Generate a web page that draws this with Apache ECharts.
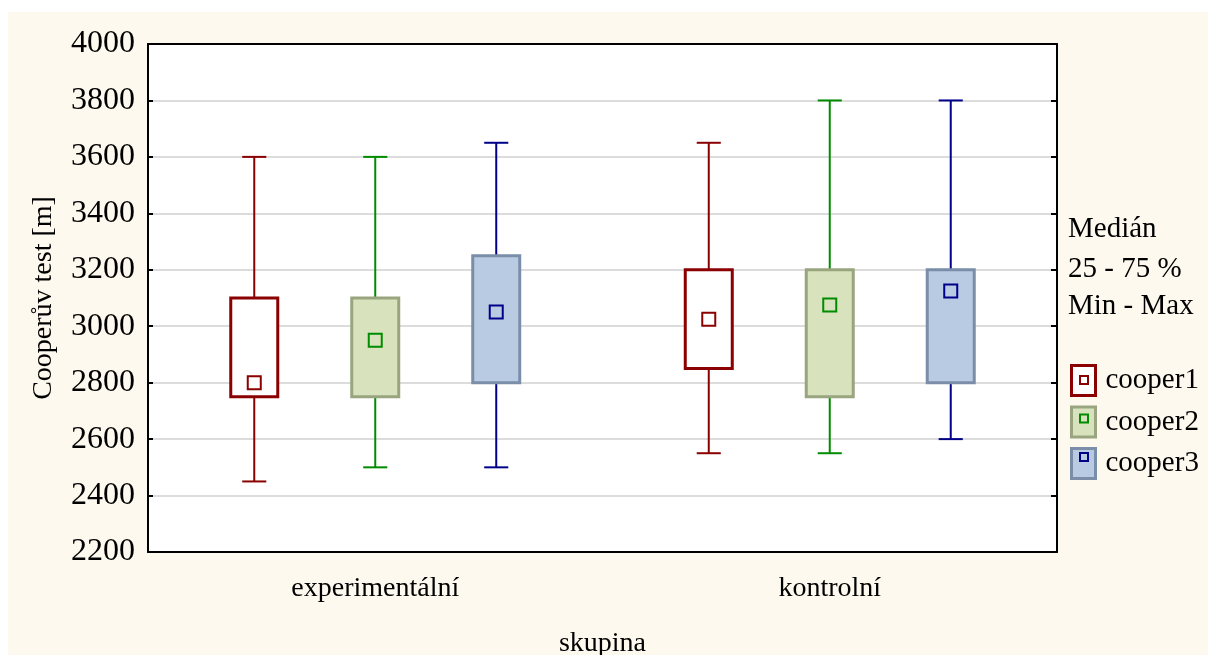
<!DOCTYPE html>
<html>
<head>
<meta charset="utf-8">
<script src="https://cdn.jsdelivr.net/npm/echarts@6/dist/echarts.min.js"></script>
<style>
    html, body { margin: 0; padding: 0; background: #ffffff; }
    #chart { position: absolute; left: 8px; top: 12px; width: 1200px; height: 643px; }
</style>
</head>
<body>
<div id="chart"></div>
<script>
// data: [min, q1, median, q3, max]
var categories = ['experimentální', 'kontrolní'];
var seriesNames = ['cooper1', 'cooper2', 'cooper3'];
var cooper1 = [[2450, 2750, 2800, 3100, 3600], [2550, 2850, 3025, 3200, 3650]];
var cooper2 = [[2500, 2750, 2950, 3100, 3600], [2550, 2750, 3075, 3200, 3800]];
var cooper3 = [[2500, 2800, 3050, 3250, 3650], [2600, 2800, 3125, 3200, 3800]];
var yTicks = [2200, 2400, 2600, 2800, 3000, 3200, 3400, 3600, 3800, 4000];
var legendNotes = ['Medián', '25 - 75 %', 'Min - Max'];

var font = 'Liberation Serif';
var styles = [
    {line: '#8b0000', fill: '#ffffff', border: '#8b0000', median: '#8b0000'},
    {line: '#008c00', fill: '#d8e3bd', border: '#98a57e', median: '#008c00'},
    {line: '#000088', fill: '#b8cbe3', border: '#7a8ea9', median: '#000088'}
];
// offset of each series inside the category band (fraction of band width)
var offsets = [-0.2662, 0, 0.2662];

function toRows(arr) {
    var rows = [];
    for (var i = 0; i < arr.length; i++) {
        rows.push([i].concat(arr[i]));
    }
    return rows;
}

function renderBox(params, api) {
    var s = styles[params.seriesIndex];
    var cat = api.value(0);
    var band = api.size([1, 0])[0];
    var cx = api.coord([cat, 0])[0] + offsets[params.seriesIndex] * band;
    var yMin = api.coord([cat, api.value(1)])[1];
    var yQ1 = api.coord([cat, api.value(2)])[1];
    var yMed = api.coord([cat, api.value(3)])[1];
    var yQ3 = api.coord([cat, api.value(4)])[1];
    var yMax = api.coord([cat, api.value(5)])[1];
    var bw = band * 0.1034;
    var cw = band * 0.053;
    var lineStyle = {stroke: s.line, lineWidth: 2};
    return {
        type: 'group',
        children: [
            {type: 'line', shape: {x1: cx, y1: yMax, x2: cx, y2: yQ3}, style: lineStyle},
            {type: 'line', shape: {x1: cx, y1: yQ1, x2: cx, y2: yMin}, style: lineStyle},
            {type: 'line', shape: {x1: cx - cw / 2, y1: yMax, x2: cx + cw / 2, y2: yMax}, style: lineStyle},
            {type: 'line', shape: {x1: cx - cw / 2, y1: yMin, x2: cx + cw / 2, y2: yMin}, style: lineStyle},
            {type: 'rect', shape: {x: cx - bw / 2, y: yQ3, width: bw, height: yQ1 - yQ3},
                style: {fill: s.fill, stroke: s.border, lineWidth: 3}},
            {type: 'rect', shape: {x: cx - 6.5, y: yMed - 6.5, width: 13, height: 13},
                style: {fill: 'none', stroke: s.median, lineWidth: 2}}
        ]
    };
}

var chart = echarts.init(document.getElementById('chart'));

var series = [cooper1, cooper2, cooper3].map(function (arr, i) {
    return {
        name: seriesNames[i],
        type: 'custom',
        renderItem: renderBox,
        xAxisIndex: 0,
        yAxisIndex: 0,
        encode: {x: 0, y: [1, 2, 3, 4, 5]},
        itemStyle: {color: styles[i].fill, borderColor: styles[i].border},
        data: toRows(arr),
        z: 5
    };
});

var graphics = [];
legendNotes.forEach(function (t, i) {
    graphics.push({
        type: 'text', left: 1060, top: [203, 243, 280][i],
        style: {text: t, font: '29px "' + font + '"', fill: '#000'}
    });
});
// small median squares inside legend icons
[364, 402.5, 441].forEach(function (y, i) {
    graphics.push({
        type: 'rect', z: 100,
        shape: {x: 1072, y: y, width: 8, height: 8},
        style: {fill: 'none', stroke: styles[i].median, lineWidth: 2}
    });
});

var option = {
    backgroundColor: '#fdf9ee',
    animation: false,
    grid: {left: 140, top: 32, width: 909, height: 508, outerBoundsMode: 'none',
        show: true, backgroundColor: '#ffffff', borderWidth: 0},
    legend: {
        orient: 'vertical',
        left: 1057,
        top: 347,
        itemWidth: 24,
        itemHeight: 30,
        itemGap: 8.5,
        icon: 'rect',
        selectedMode: false,
        textStyle: {fontFamily: font, fontSize: 29, lineHeight: 30, color: '#000', padding: [0, 0, 0, 5]},
        data: seriesNames.map(function (n, i) {
            return {name: n, itemStyle: {color: styles[i].fill, borderColor: styles[i].border, borderWidth: 3}};
        })
    },
    xAxis: [{
        type: 'category',
        data: categories,
        position: 'bottom',
        name: 'skupina',
        nameLocation: 'middle',
        nameGap: 78,
        nameTextStyle: {fontFamily: font, fontSize: 28, color: '#000'},
        axisLine: {lineStyle: {color: '#000', width: 2}},
        axisTick: {inside: true, alignWithLabel: true, length: 6, lineStyle: {color: '#000', width: 2}},
        axisLabel: {fontFamily: font, fontSize: 28, color: '#000', margin: 23},
        splitLine: {show: false}
    }, {
        type: 'category',
        data: categories,
        position: 'top',
        axisLine: {lineStyle: {color: '#000', width: 2}},
        axisTick: {inside: true, alignWithLabel: true, length: 6, lineStyle: {color: '#000', width: 2}},
        axisLabel: {show: false},
        splitLine: {show: false}
    }],
    yAxis: [{
        type: 'value',
        min: yTicks[0],
        max: yTicks[yTicks.length - 1],
        interval: 200,
        name: 'Cooperův test [m]',
        nameLocation: 'middle',
        nameGap: 90,
        nameTextStyle: {fontFamily: font, fontSize: 28, color: '#000'},
        axisLine: {show: true, lineStyle: {color: '#000', width: 2}},
        axisTick: {show: true, inside: true, length: 5, lineStyle: {color: '#000', width: 2}},
        axisLabel: {fontFamily: font, fontSize: 32, color: '#000', margin: 13,
            formatter: function (v) { return String(v); }},
        splitLine: {show: true, lineStyle: {color: '#dcdcdc', width: 2}}
    }, {
        type: 'value',
        position: 'right',
        min: yTicks[0],
        max: yTicks[yTicks.length - 1],
        interval: 200,
        axisLine: {show: true, lineStyle: {color: '#000', width: 2}},
        axisTick: {show: true, inside: true, length: 6, lineStyle: {color: '#000', width: 2}},
        axisLabel: {show: false},
        splitLine: {show: false}
    }],
    graphic: graphics,
    series: series
};

chart.setOption(option);
</script>
</body>
</html>
